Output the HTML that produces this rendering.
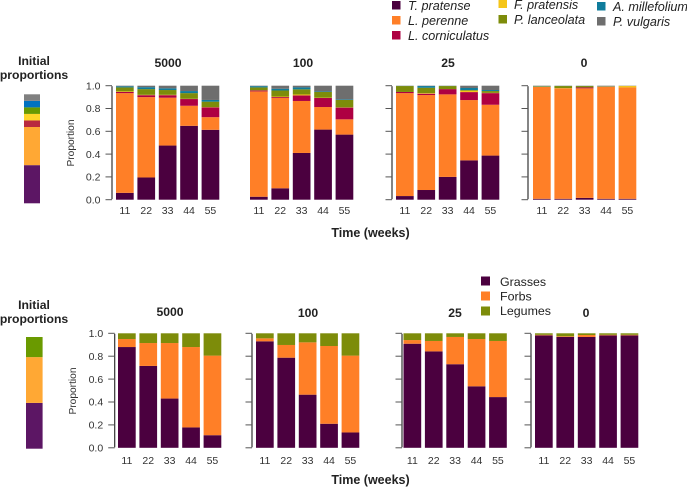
<!DOCTYPE html>
<html lang="en">
<head>
<meta charset="utf-8">
<title>Species proportions over time</title>
<style>
html,body{margin:0;padding:0;background:#fff}
svg{display:block;font-family:"Liberation Sans",Arial,sans-serif}
.t{font-weight:bold;font-size:12.2px;fill:#222;text-anchor:middle}
.lg{font-size:12.4px;fill:#222}
.i{font-style:italic;font-size:12.6px}
</style>
</head>
<body>
<svg id="chart" width="687" height="487" viewBox="0 0 687 487" xmlns="http://www.w3.org/2000/svg">
  <g>
    <rect x="392" y="1" width="8.5" height="8.5" fill="#4b003f"/>
    <text x="408" y="10" class="lg i">T. pratense</text>
    <rect x="392" y="16" width="8.5" height="8.5" fill="#ff7f27"/>
    <text x="408" y="25" class="lg i">L. perenne</text>
    <rect x="392" y="31" width="8.5" height="8.5" fill="#ae0042"/>
    <text x="408" y="40" class="lg i">L. corniculatus</text>
    <rect x="498.500" y="0" width="8.5" height="8" fill="#f5c518"/>
    <text x="514" y="9" class="lg i">F. pratensis</text>
    <rect x="498.500" y="15" width="8.5" height="8.5" fill="#7d8c0a"/>
    <text x="514" y="24" class="lg i">P. lanceolata</text>
    <rect x="597" y="2" width="8.5" height="8.5" fill="#0f7c9c"/>
    <text x="613" y="11" class="lg i">A. millefolium</text>
    <rect x="597" y="17" width="8.5" height="8.5" fill="#6e6e6e"/>
    <text x="613" y="26" class="lg i">P. vulgaris</text>
  </g>
  <g>
    <rect x="481" y="276.500" width="9" height="9" fill="#4b003f"/>
    <text x="500" y="286" class="lg">Grasses</text>
    <rect x="481" y="291.500" width="9" height="9" fill="#ff7f27"/>
    <text x="500" y="300.500" class="lg">Forbs</text>
    <rect x="481" y="306.500" width="9" height="9" fill="#7d8c0a"/>
    <text x="500" y="315" class="lg">Legumes</text>
  </g>
  <g>
    <text x="34" y="65" class="t">Initial</text>
    <text x="34" y="79" class="t">proportions</text>
  </g>
  <g>
    <text x="34" y="309" class="t">Initial</text>
    <text x="34" y="323" class="t">proportions</text>
  </g>
  <text x="168" y="67" class="t">5000</text>
  <text x="303" y="67" class="t">100</text>
  <text x="448" y="67" class="t">25</text>
  <text x="584" y="67" class="t">0</text>
  <text x="170" y="316" class="t">5000</text>
  <text x="308" y="317" class="t">100</text>
  <text x="455" y="317" class="t">25</text>
  <text x="586" y="317" class="t">0</text>
  <text x="370.500" y="237" class="t" style="font-size:12.5px">Time (weeks)</text>
  <text x="370.500" y="484" class="t" style="font-size:12.5px">Time (weeks)</text>
  <text transform="translate(74 143) rotate(-90)" font-size="10.200" fill="#333" text-anchor="middle">Proportion</text>
  <text transform="translate(76 391) rotate(-90)" font-size="10.200" fill="#333" text-anchor="middle">Proportion</text>
  <g id="marks"></g>
</svg>
<script>
// Shared axis data
const weeks = [11, 22, 33, 44, 55];
const yTicks = [0, 0.2, 0.4, 0.6, 0.8, 1];

// Species palette, bottom to top of each stack
const speciesColors = ['#4b003f', '#ff7f27', '#ae0042', '#f5c518', '#7d8c0a', '#0f7c9c', '#6e6e6e'];
const groupColors = ['#4b003f', '#ff7f27', '#7d8c0a'];

// Top row: share per species, one row per week
const species5000 = [
  [0.060, 0.875, 0.010, 0.005, 0.035, 0.010, 0.005],
  [0.195, 0.705, 0.017, 0.003, 0.050, 0.017, 0.013],
  [0.475, 0.420, 0.022, 0.003, 0.042, 0.015, 0.023],
  [0.648, 0.176, 0.059, 0.002, 0.050, 0.018, 0.047],
  [0.613, 0.111, 0.086, 0.002, 0.048, 0.015, 0.125]
];
const species100 = [
  [0.026, 0.924, 0.008, 0.002, 0.025, 0.011, 0.004],
  [0.100, 0.792, 0.008, 0.005, 0.053, 0.015, 0.027],
  [0.410, 0.456, 0.049, 0.008, 0.045, 0.017, 0.015],
  [0.615, 0.198, 0.079, 0.003, 0.050, 0.005, 0.050],
  [0.571, 0.134, 0.103, 0.002, 0.065, 0.005, 0.120]
];
const species25 = [
  [0.032, 0.903, 0.010, 0.000, 0.052, 0.001, 0.002],
  [0.085, 0.833, 0.012, 0.005, 0.047, 0.015, 0.003],
  [0.200, 0.724, 0.046, 0.000, 0.027, 0.001, 0.002],
  [0.345, 0.529, 0.070, 0.012, 0.006, 0.018, 0.020],
  [0.387, 0.446, 0.102, 0.002, 0.016, 0.009, 0.038]
];
const species0 = [
  [0.008, 0.982, 0.000, 0.000, 0.005, 0.002, 0.003],
  [0.008, 0.969, 0.000, 0.002, 0.018, 0.001, 0.002],
  [0.016, 0.961, 0.008, 0.000, 0.012, 0.001, 0.002],
  [0.008, 0.984, 0.000, 0.000, 0.003, 0.002, 0.003],
  [0.008, 0.977, 0.000, 0.012, 0.001, 0.000, 0.002]
];

// Bottom row: grasses, forbs, legumes per week
const groups5000 = [
  [0.880, 0.070, 0.050],
  [0.715, 0.200, 0.085],
  [0.430, 0.485, 0.085],
  [0.178, 0.702, 0.120],
  [0.110, 0.695, 0.195]
];
const groups100 = [
  [0.930, 0.026, 0.044],
  [0.787, 0.111, 0.102],
  [0.464, 0.457, 0.079],
  [0.210, 0.679, 0.111],
  [0.134, 0.671, 0.195]
];
const groups25 = [
  [0.909, 0.032, 0.059],
  [0.842, 0.091, 0.067],
  [0.730, 0.238, 0.032],
  [0.537, 0.413, 0.050],
  [0.443, 0.490, 0.067]
];
const groups0 = [
  [0.982, 0.005, 0.013],
  [0.968, 0.006, 0.026],
  [0.968, 0.017, 0.015],
  [0.982, 0.005, 0.013],
  [0.982, 0.005, 0.013]
];

// Initial proportions columns
const initialSpecies = [0.35, 0.35, 0.06, 0.06, 0.06, 0.06, 0.06];
const initialSpeciesColors = ['#5c1664', '#ffa834', '#b9293f', '#ffd629', '#6a9a00', '#0072c1', '#808080'];
const initialGroups = [0.41, 0.41, 0.18];
const initialGroupColors = ['#5c1664', '#ffa834', '#6a9a00'];

const root = document.getElementById('marks');
const NS = 'http://www.w3.org/2000/svg';

function make(tag, parent, props) {
  const node = document.createElementNS(NS, tag);
  for (const key in props) node.setAttribute(key, props[key]);
  parent.appendChild(node);
  return node;
}

function scaleY(value, row) {
  return row.y0 - value * (row.y0 - row.y1);
}

function drawAxis(panel, row, axisX, name) {
  const g = make('g', root, {});
  
  
  make('line', g, {x1: axisX, x2: axisX, y1: scaleY(0, row) - 0.5, y2: scaleY(1, row) + 0.5, stroke: '#333', 'stroke-width': 1.2});
  yTicks.forEach(function (tick) {
    const y = scaleY(tick, row);
    make('line', g, {x1: axisX - 6.5, x2: axisX, y1: y, y2: y, stroke: '#555', 'stroke-width': 1});
    if (panel.labels) {
      const label = make('text', g, {x: axisX - 11.5, y: y + 3.7, 'font-size': 10.5, fill: '#333', 'text-anchor': 'end'});
      label.textContent = tick.toFixed(1);
    }
  });
}

function drawPanel(panel, row, colors, name) {
  const g = make('g', root, {});
  
  
  panel.values.forEach(function (stack, w) {
    const x = panel.x0 + w * panel.pitch;
    let total = 0;
    stack.forEach(function (share, s) {
      if (share <= 0) return;
      const top = scaleY(total + share, row);
      const bottom = scaleY(total, row);
      const seg = make('rect', g, {x: x, y: top, width: panel.barWidth, height: bottom - top, fill: colors[s]});
      
      
      total += share;
    });
    const tick = make('text', g, {x: x + panel.barWidth / 2, y: row.labelY, 'font-size': 10.5, fill: '#333', 'text-anchor': 'middle'});
    tick.textContent = weeks[w];
  });
  if (panel.axisX) drawAxis(panel, row, panel.axisX, name + '-y-axis');
}

function drawInitial(shares, colors, box, name) {
  const g = make('g', root, {});
  
  
  let total = 0;
  shares.forEach(function (share, s) {
    const top = box.y0 - (total + share) * (box.y0 - box.y1);
    const bottom = box.y0 - total * (box.y0 - box.y1);
    make('rect', g, {x: box.x, y: top, width: box.w, height: bottom - top, fill: colors[s]});
    total += share;
  });
}

const topRow = {y0: 199.7, y1: 85.7, labelY: 214};
const bottomRow = {y0: 447.8, y1: 333.3, labelY: 464};
const barWidth = 17.7;
const pitch = 21.4;

drawPanel({values: species5000, x0: 116, pitch: pitch, barWidth: barWidth, axisX: 112, labels: true}, topRow, speciesColors, 'top-panel-5000');
drawPanel({values: species100, x0: 250, pitch: pitch, barWidth: barWidth}, topRow, speciesColors, 'top-panel-100');
drawPanel({values: species25, x0: 396, pitch: pitch, barWidth: barWidth, axisX: 392}, topRow, speciesColors, 'top-panel-25');
drawPanel({values: species0, x0: 533, pitch: pitch, barWidth: barWidth, axisX: 528}, topRow, speciesColors, 'top-panel-0');

drawPanel({values: groups5000, x0: 118, pitch: pitch, barWidth: barWidth, axisX: 114.7, labels: true}, bottomRow, groupColors, 'bottom-panel-5000');
drawPanel({values: groups100, x0: 256, pitch: pitch, barWidth: barWidth, axisX: 252}, bottomRow, groupColors, 'bottom-panel-100');
drawPanel({values: groups25, x0: 403.500, pitch: pitch, barWidth: barWidth, axisX: 402}, bottomRow, groupColors, 'bottom-panel-25');
drawPanel({values: groups0, x0: 535, pitch: pitch, barWidth: barWidth, axisX: 531}, bottomRow, groupColors, 'bottom-panel-0');

drawInitial(initialSpecies, initialSpeciesColors, {x: 24, w: 16, y0: 203.3, y1: 94.3}, 'initial-proportions-species');
drawInitial(initialGroups, initialGroupColors, {x: 26, w: 16.6, y0: 448.7, y1: 337}, 'initial-proportions-groups');
</script>
</body>
</html>
